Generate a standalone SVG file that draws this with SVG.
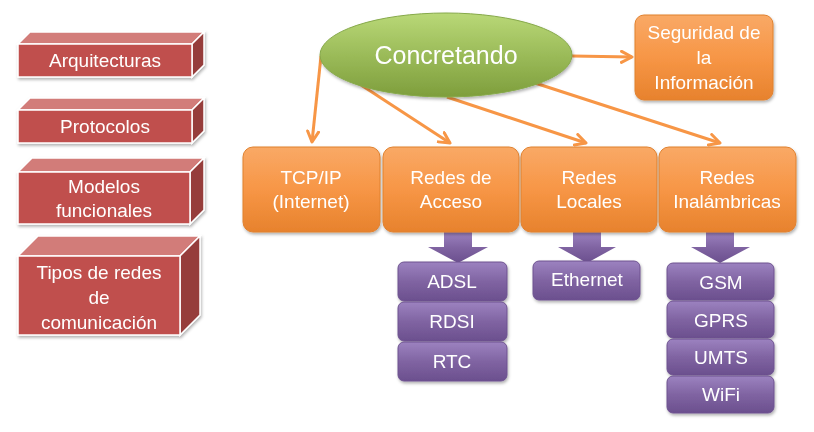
<svg xmlns="http://www.w3.org/2000/svg" width="814" height="432" viewBox="0 0 814 432">
<defs>
<linearGradient id="gGreen" x1="0" y1="0" x2="0" y2="1">
<stop offset="0" stop-color="#B9D877"/><stop offset="0.5" stop-color="#9BBB59"/><stop offset="1" stop-color="#7E9E3C"/>
</linearGradient>
<linearGradient id="gOrange" x1="0" y1="0" x2="0" y2="1">
<stop offset="0" stop-color="#F9A966"/><stop offset="0.5" stop-color="#F79646"/><stop offset="1" stop-color="#E7822D"/>
</linearGradient>
<linearGradient id="gPurple" x1="0" y1="0" x2="0" y2="1">
<stop offset="0" stop-color="#9C82C0"/><stop offset="0.5" stop-color="#8064A2"/><stop offset="1" stop-color="#6B4F8E"/>
</linearGradient>
<marker id="arr" viewBox="0 0 14 14" refX="12" refY="7" markerWidth="14" markerHeight="14" markerUnits="userSpaceOnUse" orient="auto">
<path d="M1.5,1.5 L12,7 L1.5,12.5" fill="none" stroke="#F79646" stroke-width="3" stroke-linecap="round" stroke-linejoin="round"/>
</marker>
<filter id="sh" x="-10%" y="-10%" width="130%" height="140%">
<feDropShadow dx="1" dy="2" stdDeviation="1.5" flood-color="#000" flood-opacity="0.3"/>
</filter>
</defs>
<style>
text{font-family:"Liberation Sans",Arial,sans-serif;fill:#FFFFFF;text-anchor:middle}
.t18{font-size:19px}
.front{fill:#C0504D;stroke:#FFFFFF;stroke-width:1.5}
.top{fill:#D27C79;stroke:#FFFFFF;stroke-width:1.5}
.side{fill:#963C3A;stroke:#FFFFFF;stroke-width:1.5}
.ob{fill:url(#gOrange);stroke:#E0812F;stroke-width:1}
.pb{fill:url(#gPurple);stroke:#6E5390;stroke-width:1}
.pa{fill:url(#gPurple)}
.conn{stroke:#F79646;stroke-width:3;fill:none;marker-end:url(#arr)}
</style>

<g id="arquitecturas" filter="url(#sh)">
<polygon class="top" points="18,44 30,32 204,32 192,44"/>
<polygon class="side" points="192,44 204,32 204,65 192,77"/>
<rect class="front" x="18" y="44" width="174" height="33"/>
<text class="t18" x="105" y="67">Arquitecturas</text>
</g>
<g id="protocolos" filter="url(#sh)">
<polygon class="top" points="18,110 30,98 204,98 192,110"/>
<polygon class="side" points="192,110 204,98 204,131 192,143"/>
<rect class="front" x="18" y="110" width="174" height="33"/>
<text class="t18" x="105" y="133">Protocolos</text>
</g>
<g id="modelos" filter="url(#sh)">
<polygon class="top" points="18,172 32,158 204,158 190,172"/>
<polygon class="side" points="190,172 204,158 204,210 190,224"/>
<rect class="front" x="18" y="172" width="172" height="52"/>
<text class="t18" x="104" y="193">Modelos</text>
<text class="t18" x="104" y="217">funcionales</text>
</g>
<g id="tipos" filter="url(#sh)">
<polygon class="top" points="18,256 38,236 200,236 180,256"/>
<polygon class="side" points="180,256 200,236 200,315 180,335"/>
<rect class="front" x="18" y="256" width="162" height="79"/>
<text class="t18" x="99" y="279">Tipos de redes</text>
<text class="t18" x="99" y="304">de</text>
<text class="t18" x="99" y="329">comunicación</text>
</g>

<g id="connectors">
<line class="conn" x1="321" y1="56" x2="312" y2="142"/>
<line class="conn" x1="358" y1="83" x2="450" y2="143"/>
<line class="conn" x1="447" y1="97" x2="586" y2="143"/>
<line class="conn" x1="535" y1="83" x2="720" y2="143"/>
<line class="conn" x1="572" y1="56" x2="632" y2="57"/>
<polygon class="pa" points="444,232 472,232 472,247 488,247 458,263 428,247 444,247"/>
<polygon class="pa" points="573,232 601,232 601,247 616,247 587,263 558,247 573,247"/>
<polygon class="pa" points="706,232 734,232 734,247 750,247 720,263 691,247 706,247"/>
</g>

<g id="concretando" filter="url(#sh)">
<ellipse cx="446" cy="55" rx="126" ry="42" fill="url(#gGreen)" stroke="#86A94A" stroke-width="1"/>
<text x="446" y="64" style="font-size:25px">Concretando</text>
</g>
<g id="seguridad" filter="url(#sh)">
<rect class="ob" x="635" y="15" width="138" height="85" rx="9"/>
<text class="t18" x="704" y="39">Seguridad de</text>
<text class="t18" x="704" y="64">la</text>
<text class="t18" x="704" y="89">Información</text>
</g>

<g id="tcpip" filter="url(#sh)">
<rect class="ob" x="243" y="147" width="137" height="85" rx="10"/>
<text class="t18" x="311" y="184">TCP/IP</text>
<text class="t18" x="311" y="208">(Internet)</text>
</g>
<g id="acceso" filter="url(#sh)">
<rect class="ob" x="383" y="147" width="136" height="85" rx="10"/>
<text class="t18" x="451" y="184">Redes de</text>
<text class="t18" x="451" y="208">Acceso</text>
</g>
<g id="locales" filter="url(#sh)">
<rect class="ob" x="521" y="147" width="136" height="85" rx="10"/>
<text class="t18" x="589" y="184">Redes</text>
<text class="t18" x="589" y="208">Locales</text>
</g>
<g id="inalambricas" filter="url(#sh)">
<rect class="ob" x="659" y="147" width="137" height="85" rx="10"/>
<text class="t18" x="727" y="184">Redes</text>
<text class="t18" x="727" y="208">Inalámbricas</text>
</g>

<g id="adsl" filter="url(#sh)">
<rect class="pb" x="398" y="262" width="109" height="39" rx="6"/>
<text class="t18" x="452" y="288">ADSL</text>
</g>
<g id="rdsi" filter="url(#sh)">
<rect class="pb" x="398" y="302" width="109" height="39" rx="6"/>
<text class="t18" x="452" y="328">RDSI</text>
</g>
<g id="rtc" filter="url(#sh)">
<rect class="pb" x="398" y="342" width="109" height="39" rx="6"/>
<text class="t18" x="452" y="368">RTC</text>
</g>
<g id="ethernet" filter="url(#sh)">
<rect class="pb" x="533" y="261" width="107" height="39" rx="6"/>
<text class="t18" x="587" y="286">Ethernet</text>
</g>
<g id="gsm" filter="url(#sh)">
<rect class="pb" x="667" y="263" width="107" height="37" rx="6"/>
<text class="t18" x="721" y="289">GSM</text>
</g>
<g id="gprs" filter="url(#sh)">
<rect class="pb" x="667" y="301" width="107" height="37" rx="6"/>
<text class="t18" x="721" y="327">GPRS</text>
</g>
<g id="umts" filter="url(#sh)">
<rect class="pb" x="667" y="339" width="107" height="36" rx="6"/>
<text class="t18" x="721" y="364">UMTS</text>
</g>
<g id="wifi" filter="url(#sh)">
<rect class="pb" x="667" y="376" width="107" height="37" rx="6"/>
<text class="t18" x="721" y="401">WiFi</text>
</g>
</svg>
